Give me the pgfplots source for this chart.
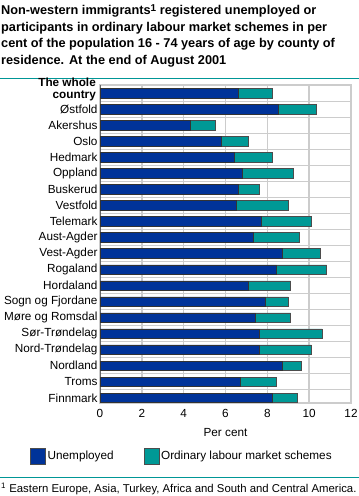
\documentclass[border=0pt]{standalone}
\usepackage{fontspec}
\setmainfont{Liberation Sans}
\usepackage{pgfplots}
\pgfplotsset{compat=1.18}
\usepackage{pgfplotstable}
\definecolor{unemp}{RGB}{0,51,153}
\definecolor{olms}{RGB}{0,153,150}
\definecolor{ssbteal}{RGB}{0,150,150}
\definecolor{gridgray}{RGB}{204,204,204}

\pgfplotstableread{
idx u o
0 6.61 1.62
1 8.54 1.80
2 4.33 1.18
3 5.81 1.29
4 6.43 1.80
5 6.80 2.45
6 6.61 1.02
7 6.53 2.48
8 7.72 2.38
9 7.34 2.18
10 8.73 1.80
11 8.44 2.39
12 7.10 2.01
13 7.92 1.09
14 7.44 1.67
15 7.63 2.99
16 7.63 2.47
17 8.73 0.89
18 6.72 1.71
19 8.25 1.20
}\data

\begin{document}
\begin{tikzpicture}
\useasboundingbox (0bp,0bp) rectangle (359bp,-496bp);
% title
\node[anchor=north west, inner sep=0, align=left, font=\fontsize{12.8}{16.5}\selectfont\bfseries] at (1bp,-4bp)
{Non-western immigrants\raisebox{0.55ex}{\fontsize{10}{10}\selectfont 1} registered unemployed or\\
participants in ordinary labour market schemes in per\\
cent of the population 16 - 74 years of age by county of\\
residence. At the end of August 2001};
\draw[ssbteal, line width=1bp] (0bp,-78bp) -- (359bp,-78bp);
\draw[ssbteal, line width=1bp] (0bp,-477bp) -- (359bp,-477bp);
\node[anchor=west, inner sep=0, font=\fontsize{11.4}{12}\selectfont] at (1bp,-488.5bp)
{\textsuperscript{1} Eastern Europe, Asia, Turkey, Africa and South and Central America.};

\begin{axis}[
  at={(100bp,-85bp)}, anchor=north west,
  scale only axis, width=251bp, height=318bp,
  xbar stacked, bar width=9.5bp,
  y dir=reverse,
  xmin=0, xmax=12, ymin=-0.5, ymax=19.32,
  xtick={0,2,...,12},
  ytick={0,...,19},
  yticklabels={{},{Østfold},{Akershus},{Oslo},{Hedmark},{Oppland},{Buskerud},{Vestfold},{Telemark},{Aust-Agder},{Vest-Agder},{Rogaland},{Hordaland},{Sogn og Fjordane},{Møre og Romsdal},{Sør-Trøndelag},{Nord-Trøndelag},{Nordland},{Troms},{Finnmark}},
  minor ytick={0.5,1.5,...,18.5},
  ymajorgrids=false, yminorgrids=true, xmajorgrids=true,
  minor grid style={gridgray, line width=0.8bp},
  major grid style={gridgray, line width=1.5bp},
  axis line style={gridgray, line width=1.5bp},
  tick style={draw=none},
  ticklabel style={font=\fontsize{11.8}{13}\selectfont},
  /pgf/number format/assume math mode=true,
  xticklabel style={yshift=-3bp},
  yticklabel style={xshift=1bp},
  xlabel={Per cent},
  xlabel style={font=\fontsize{11.8}{13}\selectfont, yshift=-4bp},
  legend columns=2,
  legend style={at={(axis description cs:-0.279,-0.167)}, anchor=west, draw=none, fill=none,
    font=\fontsize{11.8}{13}\selectfont, inner sep=0pt,
    /tikz/every even column/.append style={column sep=28bp}},
  legend image code/.code={\draw[#1, draw=black!70, line width=0.5bp] (0bp,-8bp) rectangle (15bp,8bp);},
  clip=false,
]
\addplot[fill=unemp, draw=black!80, line width=0.5bp] table[x=u, y=idx] {\data};
\addlegendentry{Unemployed}
\addplot[fill=olms, draw=black!70, line width=0.5bp] table[x=o, y=idx] {\data};
\addlegendentry{Ordinary labour market schemes}
\draw[black!60, line width=0.8bp] (rel axis cs:0,0) -- (rel axis cs:0,1);
\node[anchor=east, align=right, inner sep=0, font=\fontsize{11.8}{12}\selectfont\bfseries] at (axis cs:0,0) [xshift=-4bp, yshift=4bp] {The whole\\country};
\end{axis}
\end{tikzpicture}
\end{document}
